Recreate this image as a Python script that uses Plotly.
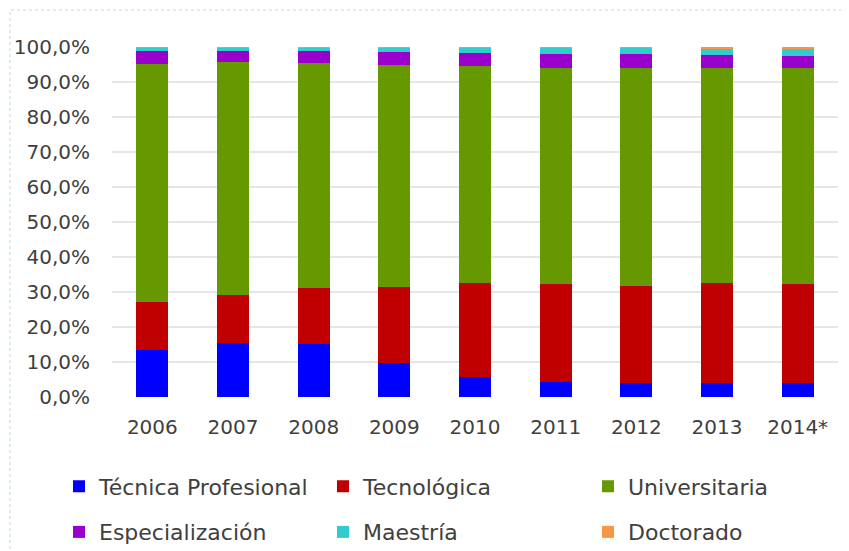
import plotly.graph_objects as go

years = ["2006", "2007", "2008", "2009", "2010", "2011", "2012", "2013", "2014*"]
tecnica_profesional = [13.4, 15.3, 15.1, 9.6, 5.6, 4.4, 3.9, 3.9, 4.1]
tecnologica = [13.8, 13.9, 16.0, 21.8, 27.1, 27.8, 27.9, 28.6, 28.2]
universitaria = [68.0, 66.6, 64.4, 63.6, 61.9, 61.7, 62.1, 61.4, 61.6]
especializacion = [3.6, 3.0, 3.3, 3.5, 3.7, 4.1, 4.1, 3.9, 3.6]
maestria = [1.1, 1.1, 1.1, 1.3, 1.5, 1.8, 1.8, 1.7, 2.0]
doctorado = [0.1, 0.1, 0.1, 0.2, 0.2, 0.2, 0.2, 0.5, 0.5]

series = [
    ("Técnica Profesional", tecnica_profesional, "#0000FF", "legend"),
    ("Tecnológica", tecnologica, "#C00000", "legend2"),
    ("Universitaria", universitaria, "#669900", "legend3"),
    ("Especialización", especializacion, "#9900CC", "legend"),
    ("Maestría", maestria, "#33CCCC", "legend2"),
    ("Doctorado", doctorado, "#F79646", "legend3"),
]

# page body has an 8px margin, so the figure is drawn 8px smaller
W, H = 841, 543
L, R, T, B = 104, 11, 39, 154

fig = go.Figure()
for i, (name, vals, color, lg) in enumerate(series):
    fig.add_trace(go.Bar(
        x=years, y=[v / 100 for v in vals], name=name,
        marker=dict(color=color, line=dict(width=0)),
        legend=lg, legendgroup="g%d" % i,
    ))

legend_common = dict(
    orientation="v", xref="container", yref="container",
    xanchor="left", yanchor="middle", y=1 - 501.5 / H,
    font=dict(family="DejaVu Sans", size=22, color="#404040"),
    tracegroupgap=14,
    bgcolor="rgba(0,0,0,0)", traceorder="grouped",
)

pw = W - L - R
ph = H - T - B
fig.update_layout(
    width=W, height=H,
    margin=dict(l=L, r=R, t=T, b=B, autoexpand=False),
    barmode="stack", bargap=0.6,
    separators=",.",
    plot_bgcolor="white", paper_bgcolor="white",
    font=dict(family="DejaVu Sans", color="#404040"),
    legend=dict(legend_common, x=51 / W),
    legend2=dict(legend_common, x=315 / W),
    legend3=dict(legend_common, x=580 / W),
    xaxis=dict(
        tickfont=dict(size=20, family="DejaVu Sans", color="#404040"),
        showgrid=False, showline=False, ticks="",
        ticklabelstandoff=16, automargin=False,
    ),
    yaxis=dict(
        range=[0, 1], dtick=0.1, tickformat=".1%",
        tickfont=dict(size=20, family="DejaVu Sans", color="#404040"),
        showgrid=True, gridcolor="#E6E6E6", gridwidth=1.5,
        zeroline=False, showline=False, ticks="",
        ticklabelstandoff=21, automargin=False,
    ),
    shapes=[dict(
        type="rect", xref="paper", yref="paper",
        x0=(2 - L) / pw, x1=(870 - L) / pw,
        y0=(H - B - 580) / ph, y1=(H - B - 2) / ph,
        line=dict(color="#BDD7EE", width=1, dash="dot"),
        fillcolor="rgba(0,0,0,0)", layer="below",
    )],
)

fig.write_html("out.html")
